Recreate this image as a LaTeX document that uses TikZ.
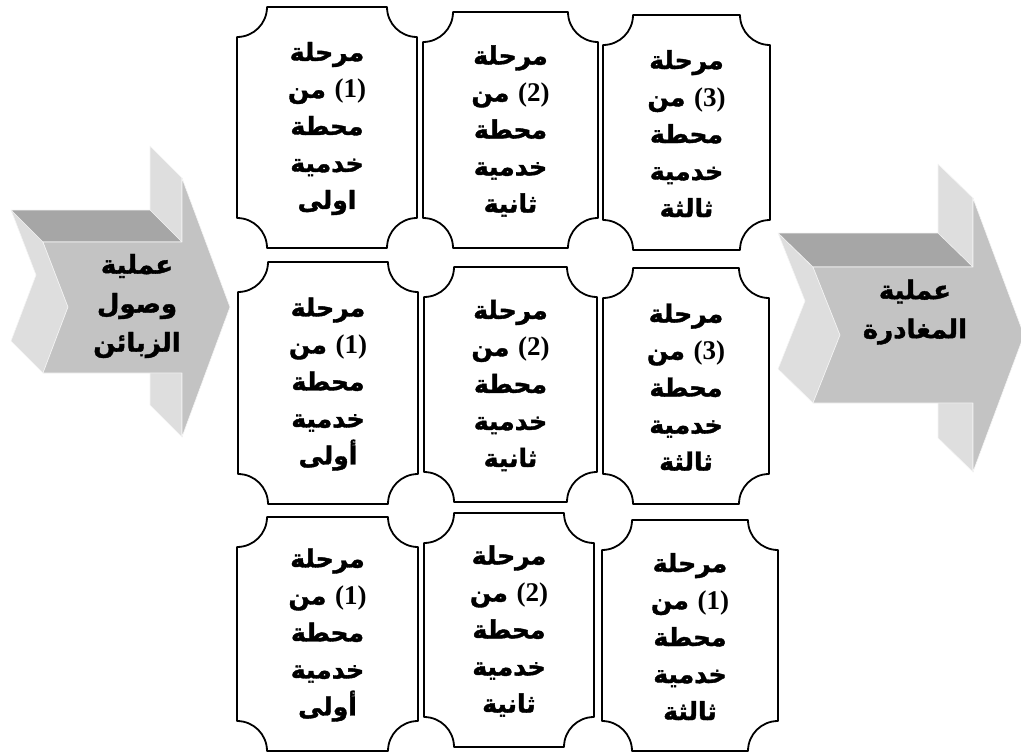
\documentclass[tikz,border=0pt]{standalone}
\usepackage{fontspec}
\newfontfamily\arabicfont[Script=Arabic,BoldFeatures={FakeBold=1.5}]{DejaVu Sans}
\newfontfamily\numfont{Liberation Serif}
\TeXXeTstate=1
\definecolor{topface}{HTML}{A6A6A6}
\definecolor{sideface}{HTML}{DEDEDE}
\definecolor{frontface}{HTML}{C3C3C3}
\newcommand\AR[1]{\beginR #1\endR}
\newcommand\NUM[1]{{\numfont\bfseries\fontsize{27}{37}\selectfont #1}}
\newcommand\stagecard[6]{%
  \draw[cardline] (#2,#3+30) .. controls (#2+16.6,#3+30) and (#2+30,#3+16.6) .. (#2+30,#3)
    -- (#4-30,#3) .. controls (#4-30,#3+16.6) and (#4-16.6,#3+30) .. (#4,#3+30)
    -- (#4,#5-30) .. controls (#4-16.6,#5-30) and (#4-30,#5-16.6) .. (#4-30,#5)
    -- (#2+30,#5) .. controls (#2+30,#5-16.6) and (#2+16.6,#5-30) .. (#2,#5-30) -- cycle;
  \node[cardtext] (#1) at ({(#2+#4)/2},{(#3+#5)/2+1}) {#6};
}
\newcommand\stagetext[3]{\AR{مرحلة}\\ من \NUM{(#1)}\\ \AR{محطة}\\ \AR{خدمية}\\ \AR{#2}}
\begin{document}
\begin{tikzpicture}[x=1pt,y=-1pt,
  cardline/.style={draw=black,line width=1.8pt,fill=white,line join=round},
  cardtext/.style={align=center,inner sep=0pt,font=\arabicfont\bfseries\fontsize{25}{37}\selectfont},
  arrowtext/.style={align=center,inner sep=0pt,font=\arabicfont\bfseries\fontsize{26}{39}\selectfont},
  faceedge/.style={draw=white!92!gray,line width=0.6pt,line join=round}]
\useasboundingbox (0,0) rectangle (1021,753);
\clip (0,0) rectangle (1021,753);
% left arrow (arrival)
\fill[sideface,faceedge] (150,146) -- (182,178) -- (182,437) -- (150,405) -- cycle;
\fill[sideface,faceedge] (11,210) -- (43,242) -- (68,307) -- (43,373) -- (11,341) -- (36,275) -- cycle;
\fill[topface,faceedge] (11,210) -- (150,210) -- (182,242) -- (43,242) -- cycle;
\fill[frontface,faceedge] (43,242) -- (182,242) -- (182,178) -- (230,307) -- (182,437) -- (182,373) -- (43,373) -- (68,307) -- cycle;
\node[arrowtext] (arrive) at (137,306) {\AR{عملية}\\ \AR{وصول}\\ \AR{الزبائن}};
% right arrow (departure)
\fill[sideface,faceedge] (938,164) -- (973,198) -- (973,472) -- (938,438) -- cycle;
\fill[sideface,faceedge] (778,233) -- (813,267) -- (840,335) -- (813,403) -- (778,369) -- (805,301) -- cycle;
\fill[topface,faceedge] (778,233) -- (938,233) -- (973,267) -- (813,267) -- cycle;
\fill[frontface,faceedge] (813,267) -- (973,267) -- (973,198) -- (1024,335) -- (973,472) -- (973,403) -- (813,403) -- (840,335) -- cycle;
\node[arrowtext] (depart) at (915,312) {\AR{عملية}\\ \AR{المغادرة}};
% cards, row 1
\stagecard{c11}{237}{7}{417}{248}{\stagetext{1}{اولى}{}}
\stagecard{c12}{423}{12}{598}{248}{\stagetext{2}{ثانية}{}}
\stagecard{c13}{603}{15}{770}{250}{\stagetext{3}{ثالثة}{}}
% row 2
\stagecard{c21}{238}{262}{418}{504}{\stagetext{1}{أولى}{}}
\stagecard{c22}{424}{267}{597}{502}{\stagetext{2}{ثانية}{}}
\stagecard{c23}{603}{268}{769}{504}{\stagetext{3}{ثالثة}{}}
% row 3
\stagecard{c31}{237}{517}{418}{751}{\stagetext{1}{أولى}{}}
\stagecard{c32}{424}{513}{594}{747}{\stagetext{2}{ثانية}{}}
\stagecard{c33}{602}{520}{778}{751}{\stagetext{1}{ثالثة}{}}
\end{tikzpicture}
\end{document}
